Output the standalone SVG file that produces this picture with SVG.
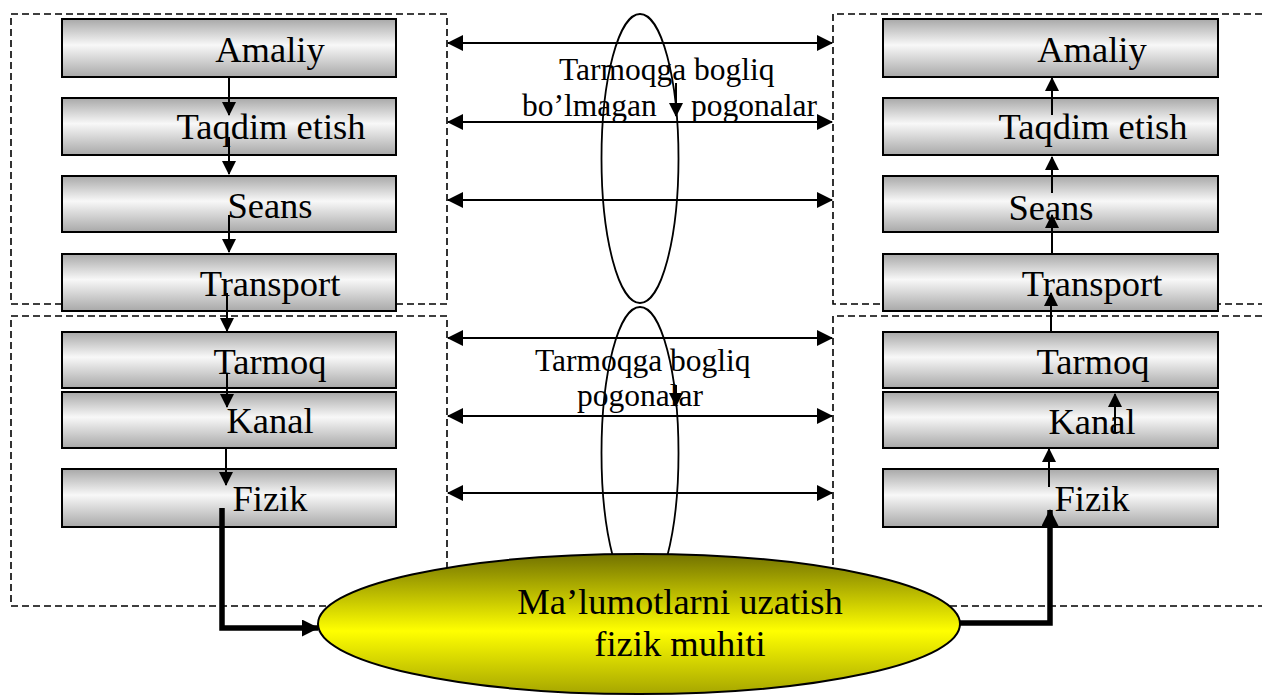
<svg xmlns="http://www.w3.org/2000/svg" width="1262" height="695" viewBox="0 0 1262 695">
<defs>
<linearGradient id="gbox" x1="0" y1="0" x2="0" y2="1">
<stop offset="0" stop-color="#a8a8a8"/>
<stop offset="0.45" stop-color="#f8f8f8"/>
<stop offset="1" stop-color="#a8a8a8"/>
</linearGradient>
<linearGradient id="gyel" x1="0" y1="0" x2="0" y2="1">
<stop offset="0" stop-color="#727200"/>
<stop offset="0.55" stop-color="#ffff00"/>
<stop offset="1" stop-color="#a6a600"/>
</linearGradient>
<marker id="ah" markerUnits="userSpaceOnUse" markerWidth="14" markerHeight="14" viewBox="0 0 14 14" refX="13" refY="7" orient="auto-start-reverse">
<path d="M0,0 L14,7 L0,14 z" fill="#000"/>
</marker>
<marker id="ahh" markerUnits="userSpaceOnUse" markerWidth="16" markerHeight="16" viewBox="0 0 16 16" refX="15" refY="8" orient="auto-start-reverse">
<path d="M0,0 L16,8 L0,16 z" fill="#000"/>
</marker>
<marker id="ahb" markerUnits="userSpaceOnUse" markerWidth="17" markerHeight="17" viewBox="0 0 17 17" refX="16" refY="8.5" orient="auto">
<path d="M0,0 L17,8.5 L0,17 z" fill="#000"/>
</marker>
</defs>
<style>
.frame{fill:none;stroke:#000;stroke-width:1.6;stroke-dasharray:7 4}
.box{fill:url(#gbox);stroke:#000;stroke-width:2}
.lbl{font-family:"Liberation Serif","Times New Roman",serif;font-size:36.5px;fill:#000;text-anchor:middle}
.clbl{font-family:"Liberation Serif","Times New Roman",serif;font-size:31.5px;fill:#000}
.oval{fill:none;stroke:#000;stroke-width:1.8}
.thin{stroke:#000;stroke-width:2;fill:none;marker-end:url(#ah)}
.dbl{stroke:#000;stroke-width:2.2;fill:none;marker-start:url(#ahh);marker-end:url(#ahh)}
.thick{stroke:#000;stroke-width:5.5;fill:none;stroke-linejoin:miter;marker-end:url(#ahb)}
</style>

<g id="frames">
<rect class="frame" x="11" y="14" width="436" height="290"/>
<rect class="frame" x="11" y="316" width="436" height="290"/>
<path class="frame" d="M1262,14 H833 V304 H1262"/>
<path class="frame" d="M1262,316 H833 V606 H1262"/>
</g>

<g id="oval-upper">
<ellipse class="oval" cx="640" cy="158.5" rx="38.5" ry="144.5"/>
<text class="clbl" x="559" y="80">Tarmoqga bogliq</text>
<text class="clbl" y="116"><tspan x="522">bo’lmagan</tspan> <tspan x="691">pogonalar</tspan></text>
</g>

<g id="oval-lower">
<ellipse class="oval" cx="640" cy="453" rx="38.5" ry="146"/>
<text class="clbl" x="535" y="371">Tarmoqga bogliq</text>
<text class="clbl" x="577" y="406">pogonalar</text>
</g>

<g id="peer-links">
<line class="dbl" x1="448" y1="43" x2="832" y2="43"/>
<line class="dbl" x1="448" y1="122" x2="832" y2="122"/>
<line class="dbl" x1="448" y1="200" x2="832" y2="200"/>
<line class="dbl" x1="448" y1="338" x2="832" y2="338"/>
<line class="dbl" x1="448" y1="416" x2="832" y2="416"/>
<line class="dbl" x1="448" y1="493" x2="832" y2="493"/>
</g>

<g id="left-amaliy"><rect class="box" x="62" y="19" width="334" height="58"/><text class="lbl" x="270" y="62">Amaliy</text></g>
<g id="left-taqdim"><rect class="box" x="62" y="98" width="334" height="57"/><text class="lbl" x="271" y="139">Taqdim etish</text></g>
<g id="left-seans"><rect class="box" x="62" y="176" width="334" height="56"/><text class="lbl" x="270" y="218">Seans</text></g>
<g id="left-transport"><rect class="box" x="62" y="254" width="334" height="57"/><text class="lbl" x="270" y="296">Transport</text></g>
<g id="left-tarmoq"><rect class="box" x="62" y="332" width="334" height="56"/><text class="lbl" x="270" y="374">Tarmoq</text></g>
<g id="left-kanal"><rect class="box" x="62" y="392" width="334" height="56"/><text class="lbl" x="270" y="433">Kanal</text></g>
<g id="left-fizik"><rect class="box" x="62" y="469" width="334" height="58"/><text class="lbl" x="270" y="511">Fizik</text></g>

<g id="right-amaliy"><rect class="box" x="883" y="19" width="335" height="58"/><text class="lbl" x="1092" y="62">Amaliy</text></g>
<g id="right-taqdim"><rect class="box" x="883" y="98" width="335" height="57"/><text class="lbl" x="1093" y="139">Taqdim etish</text></g>
<g id="right-seans"><rect class="box" x="883" y="176" width="335" height="56"/><text class="lbl" x="1051" y="220">Seans</text></g>
<g id="right-transport"><rect class="box" x="883" y="254" width="335" height="57"/><text class="lbl" x="1092" y="296">Transport</text></g>
<g id="right-tarmoq"><rect class="box" x="883" y="332" width="335" height="56"/><text class="lbl" x="1093" y="374">Tarmoq</text></g>
<g id="right-kanal"><rect class="box" x="883" y="392" width="335" height="56"/><text class="lbl" x="1092" y="434">Kanal</text></g>
<g id="right-fizik"><rect class="box" x="883" y="469" width="335" height="58"/><text class="lbl" x="1092" y="511">Fizik</text></g>

<g id="medium">
<ellipse cx="639" cy="624" rx="321" ry="70" fill="url(#gyel)" stroke="#000" stroke-width="2"/>
<text class="lbl" x="680" y="614">Ma’lumotlarni uzatish</text>
<text class="lbl" x="680" y="656">fizik muhiti</text>
</g>

<g id="connectors">
<line class="thin" x1="229" y1="77" x2="229" y2="115"/>
<line class="thin" x1="229" y1="137" x2="229" y2="174"/>
<line class="thin" x1="229" y1="215" x2="229" y2="252"/>
<line class="thin" x1="227" y1="293" x2="227" y2="331"/>
<line class="thin" x1="227" y1="373" x2="227" y2="407"/>
<line class="thin" x1="226" y1="448" x2="226" y2="485"/>
<line class="thin" x1="1052" y1="115" x2="1052" y2="78"/>
<line class="thin" x1="1052" y1="193" x2="1052" y2="157"/>
<line class="thin" x1="1052" y1="253" x2="1052" y2="215"/>
<line class="thin" x1="1051" y1="332" x2="1051" y2="293"/>
<line class="thin" x1="1115" y1="432" x2="1115" y2="394"/>
<line class="thin" x1="1049" y1="487" x2="1049" y2="449"/>
<line class="thin" x1="676" y1="83" x2="676" y2="116"/>
<line class="thin" x1="676" y1="385" x2="676" y2="406"/>
<path class="thick" d="M222,508 V628 H318"/>
<path class="thick" d="M960,623 H1050 V510"/>
</g>
</svg>
